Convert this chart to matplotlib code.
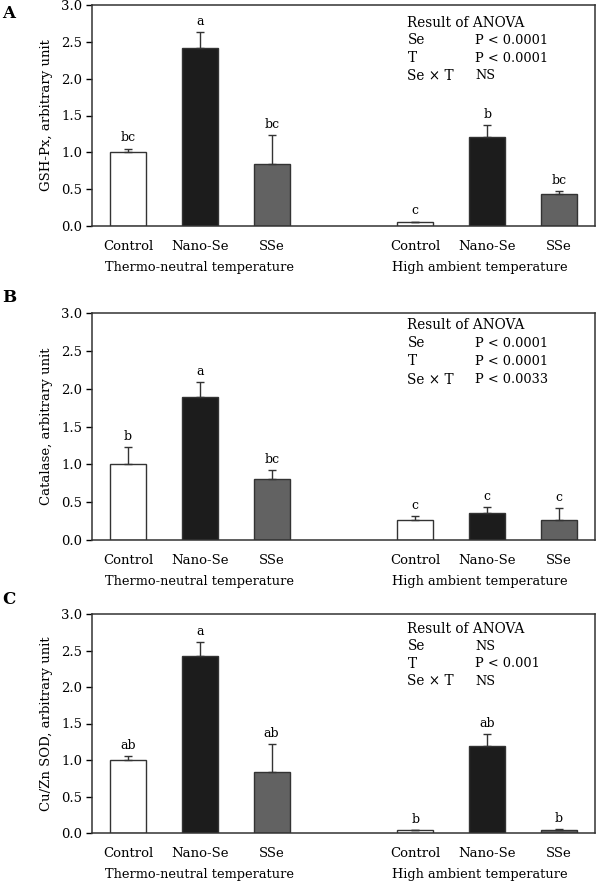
import matplotlib
matplotlib.use("Agg")
import matplotlib.pyplot as plt
import numpy as np

plt.rcParams['font.family'] = ['DejaVu Serif']

treatments = ["Control", "Nano-Se", "SSe", "Control", "Nano-Se", "SSe"]
groups = ["Thermo-neutral temperature", "High ambient temperature"]
positions = [0, 1, 2, 4, 5, 6]

panel_ids = ["A", "B", "C"]
ylabels = ["GSH-Px, arbitrary unit", "Catalase, arbitrary unit", "Cu/Zn SOD, arbitrary unit"]

gshpx_mean = [1.00, 2.41, 0.84, 0.06, 1.21, 0.43]
gshpx_err = [0.05, 0.22, 0.39, 0.00, 0.16, 0.04]
gshpx_letters = ["bc", "a", "bc", "c", "b", "bc"]

catalase_mean = [1.00, 1.89, 0.80, 0.27, 0.36, 0.26]
catalase_err = [0.23, 0.20, 0.12, 0.05, 0.08, 0.16]
catalase_letters = ["b", "a", "bc", "c", "c", "c"]

sod_mean = [1.00, 2.42, 0.84, 0.04, 1.19, 0.04]
sod_err = [0.05, 0.20, 0.38, 0.00, 0.16, 0.01]
sod_letters = ["ab", "a", "ab", "b", "ab", "b"]

anova_terms = ["Se", "T", "Se \u00d7 T"]
anova_A = ["P < 0.0001", "P < 0.0001", "NS"]
anova_B = ["P < 0.0001", "P < 0.0001", "P < 0.0033"]
anova_C = ["NS", "P < 0.001", "NS"]

yticks = [0.0, 0.5, 1.0, 1.5, 2.0, 2.5, 3.0]
bar_colors = ["white", "#1c1c1c", "#626262", "white", "#1c1c1c", "#626262"]

panels = [
    (gshpx_mean, gshpx_err, gshpx_letters, anova_A),
    (catalase_mean, catalase_err, catalase_letters, anova_B),
    (sod_mean, sod_err, sod_letters, anova_C),
]

W, H = 600.0, 882.0
fig = plt.figure(figsize=(6.0, 8.82), dpi=100)
# (left, top, right, bottom) in pixels
boxes = [(92, 5, 595, 226), (92, 313, 595, 540), (92, 614, 595, 833)]
anova_top = [2.76, 2.84, 2.80]
panel_letter_y = [14, 297, 600]

for i, (mean, err, letters, anova) in enumerate(panels):
    l, t, r, b = boxes[i]
    ax = fig.add_axes([l / W, 1 - b / H, (r - l) / W, (b - t) / H])
    ax.bar(positions, mean, width=0.5, color=bar_colors, edgecolor="#333333", linewidth=1.0, zorder=2)
    ax.errorbar(positions, mean, yerr=[np.zeros(len(err)), err], fmt="none",
                ecolor="#333333", elinewidth=1.0, capsize=3, capthick=1.0, zorder=3)
    for p, m, e, lab in zip(positions, mean, err, letters):
        ax.annotate(lab, xy=(p, m + e), xytext=(0, 3), textcoords="offset points",
                    ha="center", va="bottom", fontsize=9)
    ax.set_xlim(-0.5, 6.5)
    ax.set_ylim(0, 3.0)
    ax.set_yticks(yticks)
    ax.set_yticklabels([f"{v:.1f}" for v in yticks], fontsize=9.5)
    ax.tick_params(axis="y", direction="out", length=4, width=1.0, pad=3)
    ax.set_xticks(positions)
    ax.set_xticklabels(treatments, fontsize=9.5)
    ax.tick_params(axis="x", length=0, pad=10)
    for s in ax.spines.values():
        s.set_linewidth(1.1)
        s.set_color("#333333")
    ax.set_ylabel(ylabels[i], fontsize=9.5, labelpad=6)
    for gx, g in zip([1, 4.9], groups):
        ax.annotate(g, xy=(gx, 0), xycoords=("data", "axes fraction"),
                    xytext=(0, -30), textcoords="offset points",
                    ha="center", va="center", fontsize=9.3)
    # ANOVA block
    x0, x1 = 3.89, 4.83
    y0 = anova_top[i]
    ax.text(x0, y0, "Result of ANOVA", ha="left", va="center", fontsize=9.8)
    for j, (term, val) in enumerate(zip(anova_terms, anova)):
        yy = y0 - 0.24 * (j + 1)
        ax.text(x0, yy, term, ha="left", va="center", fontsize=9.8)
        ax.text(x1, yy, val, ha="left", va="center", fontsize=9.3)
    fig.text(2 / W, 1 - panel_letter_y[i] / H, panel_ids[i], fontsize=12,
             fontweight="bold", ha="left", va="center")

fig.savefig("out.png", dpi=100)
